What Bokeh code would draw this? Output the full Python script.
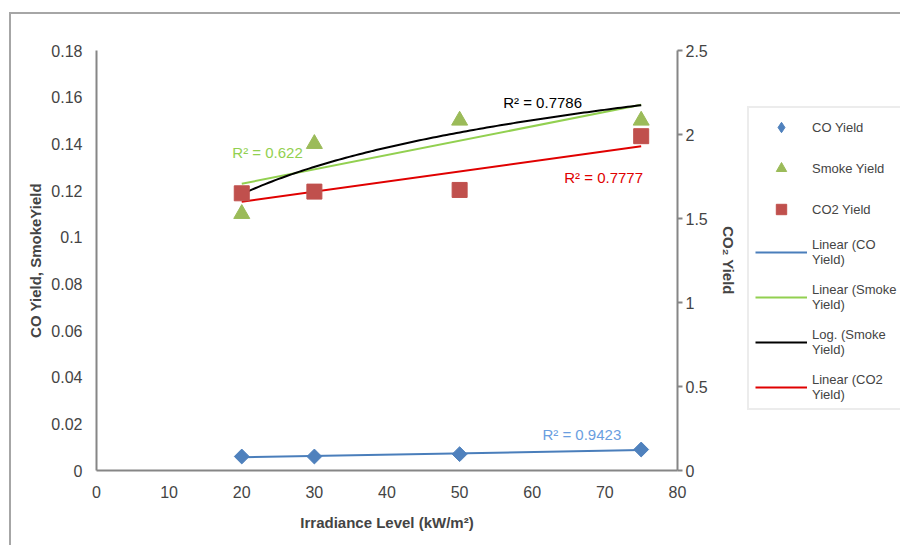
import numpy as np
from bokeh.plotting import figure
from bokeh.layouts import row
from bokeh.models import (Range1d, LinearAxis, FixedTicker, Legend, LegendItem,
                          ColumnDataSource)
from bokeh.core.properties import value
from bokeh.embed import file_html
from bokeh.resources import INLINE

# ---- data ----
irradiance = [20, 30, 50, 75]
co_yield = [0.006, 0.006, 0.007, 0.009]
smoke_yield = [0.11, 0.14, 0.15, 0.15]
co2_yield = [1.65, 1.66, 1.67, 1.99]

x_ticks = [0, 10, 20, 30, 40, 50, 60, 70, 80]
left_ticks = [0, 0.02, 0.04, 0.06, 0.08, 0.10, 0.12, 0.14, 0.16, 0.18]
left_tick_labels = ["0", "0.02", "0.04", "0.06", "0.08", "0.1", "0.12", "0.14", "0.16", "0.18"]
right_ticks = [0, 0.5, 1.0, 1.5, 2.0, 2.5]
right_tick_labels = ["0", "0.5", "1", "1.5", "2", "2.5"]

r2_labels = ["R² = 0.622", "R² = 0.7786", "R² = 0.7777", "R² = 0.9423"]
# label anchor positions (data coords, left-aligned)
r2_x = [18.7, 56.0, 64.4, 61.4]
r2_y = [0.1363, 0.1577, 0.1256, 0.0154]
r2_colors = ["#92d050", "#000000", "#e00000", "#6a9ee0"]

legend_labels = ["CO Yield", "Smoke Yield", "CO2 Yield",
                 "Linear (CO\nYield)", "Linear (Smoke\nYield)",
                 "Log. (Smoke\nYield)", "Linear (CO2\nYield)"]

FONT = "Liberation Sans"
C_CO, C_SM, C_CO2 = "#4f81bd", "#9bbb59", "#c0504d"
L_CO, L_SM, L_LOG, L_CO2 = "#4a7ebb", "#92d050", "#000000", "#e00000"

p = figure(width=728, height=531, output_backend="svg", toolbar_location=None,
           x_range=Range1d(0, 80), y_range=Range1d(0, 0.18),
           min_border_left=85, min_border_right=62, min_border_top=36, min_border_bottom=75)
p.extra_y_ranges = {"co2": Range1d(0, 2.5)}
p.grid.visible = False
p.outline_line_color = None
p.background_fill_color = "white"
p.border_fill_color = "white"

AX = "#868686"
xa = p.xaxis[0]
xa.ticker = FixedTicker(ticks=x_ticks)
xa.axis_line_color = AX
xa.axis_line_width = 2
xa.major_tick_line_color = None
xa.major_tick_out = 0
xa.major_tick_in = 0
xa.minor_tick_line_color = None
xa.major_label_text_font = FONT
xa.major_label_text_font_size = "16px"
xa.major_label_standoff = 15
xa.axis_label = "Irradiance Level (kW/m²)"
xa.axis_label_text_font = FONT
xa.axis_label_text_font_style = "bold"
xa.axis_label_text_font_size = "15px"
xa.axis_label_standoff = 13

ya = p.yaxis[0]
ya.ticker = FixedTicker(ticks=left_ticks)
ya.major_label_overrides = {t: l for t, l in zip(left_ticks, left_tick_labels)}
ya.axis_line_color = AX
ya.axis_line_width = 2
ya.major_tick_line_color = None
ya.major_tick_out = 0
ya.major_tick_in = 0
ya.minor_tick_line_color = None
ya.major_label_text_font = FONT
ya.major_label_text_font_size = "16px"
ya.major_label_standoff = 14
ya.axis_label = "CO Yield, SmokeYield"
ya.axis_label_text_font = FONT
ya.axis_label_text_font_style = "bold"
ya.axis_label_text_font_size = "15px"
ya.axis_label_standoff = 4

ra = LinearAxis(y_range_name="co2", ticker=FixedTicker(ticks=right_ticks))
ra.major_label_overrides = {t: l for t, l in zip(right_ticks, right_tick_labels)}
ra.axis_line_color = AX
ra.axis_line_width = 2
ra.major_tick_line_color = AX
ra.major_tick_line_width = 2
ra.major_tick_out = 5
ra.major_tick_in = 0
ra.minor_tick_line_color = None
ra.major_label_text_font = FONT
ra.major_label_text_font_size = "16px"
ra.major_label_standoff = 3
ra.axis_label = "CO₂ Yield"
ra.axis_label_text_font = FONT
ra.axis_label_text_font_style = "bold"
ra.axis_label_text_font_size = "15px"
ra.axis_label_standoff = 9
p.add_layout(ra, "right")

# ---- trendlines (least-squares fits of the data, as in the source chart) ----
xs = np.array(irradiance, dtype=float)
xl = np.array([xs.min(), xs.max()])
xc = np.linspace(xs.min(), xs.max(), 120)

co_fit = np.polyfit(xs, co_yield, 1)
sm_fit = np.polyfit(xs, smoke_yield, 1)
sm_log = np.polyfit(np.log(xs), smoke_yield, 1)
co2_fit = np.polyfit(xs, co2_yield, 1)

p.line(xl, np.polyval(co_fit, xl), line_color=L_CO, line_width=2)
p.line(xl, np.polyval(sm_fit, xl), line_color=L_SM, line_width=2)
p.line(xc, np.polyval(sm_log, np.log(xc)), line_color=L_LOG, line_width=2)
p.line(xl, np.polyval(co2_fit, xl), line_color=L_CO2, line_width=2, y_range_name="co2")

# ---- markers ----
p.scatter(irradiance, co_yield, marker="square", angle=np.pi / 4, size=10.5,
          fill_color=C_CO, line_color=C_CO)
p.scatter(irradiance, smoke_yield, marker="triangle", size=16,
          fill_color=C_SM, line_color=C_SM)
p.scatter(irradiance, co2_yield, marker="square", size=15,
          fill_color=C_CO2, line_color=C_CO2, y_range_name="co2")

# ---- R² labels ----
src = ColumnDataSource(dict(x=r2_x, y=r2_y, t=r2_labels, c=r2_colors))
p.text(x="x", y="y", text="t", text_color="c", source=src,
       text_font=value(FONT), text_font_size="15px",
       text_align="left", text_baseline="middle")

# ---- legend panel (separate canvas to the right of the chart) ----
# its ranges are far from the data, so the series drawn here only feed the legend
lg = figure(width=161, height=531, output_backend="svg", toolbar_location=None,
            x_range=Range1d(1000, 1001), y_range=Range1d(1000, 1001),
            x_axis_location=None, y_axis_location=None, min_border=0)
lg.grid.visible = False
lg.outline_line_color = None
lg.border_fill_color = "white"
lg.background_fill_color = "white"

g1 = lg.scatter(irradiance, co_yield, marker="diamond", fill_color=C_CO, line_color=C_CO)
g2 = lg.scatter(irradiance, smoke_yield, marker="triangle", fill_color=C_SM, line_color=C_SM)
g3 = lg.scatter(irradiance, co2_yield, marker="square", fill_color=C_CO2, line_color=C_CO2)
g4 = lg.line(irradiance, co_yield, line_color=L_CO, line_width=2)
g5 = lg.line(irradiance, smoke_yield, line_color=L_SM, line_width=2)
g6 = lg.line(irradiance, smoke_yield, line_color=L_LOG, line_width=2)
g7 = lg.line(irradiance, co2_yield, line_color=L_CO2, line_width=2)

legend = Legend(items=[LegendItem(label=lab, renderers=[r]) for lab, r in
                       zip(legend_labels, [g1, g2, g3, g4, g5, g6, g7])],
                location=(8, 60))
legend.label_text_font = FONT
legend.label_text_font_size = "13px"
legend.label_standoff = 5
legend.glyph_width = 52
legend.glyph_height = 26
legend.spacing = 15
legend.padding = 6
legend.margin = 0
legend.border_line_color = "#d9d9d9"
legend.border_line_width = 2
legend.background_fill_alpha = 1
lg.add_layout(legend, "center")

layout = row(p, lg, spacing=0,
             styles={"margin-left": "9px", "margin-top": "12px",
                     "border-left": "2px solid #a6a6a6", "border-top": "2px solid #a6a6a6"})

open("out.html", "w").write(file_html(layout, INLINE))
